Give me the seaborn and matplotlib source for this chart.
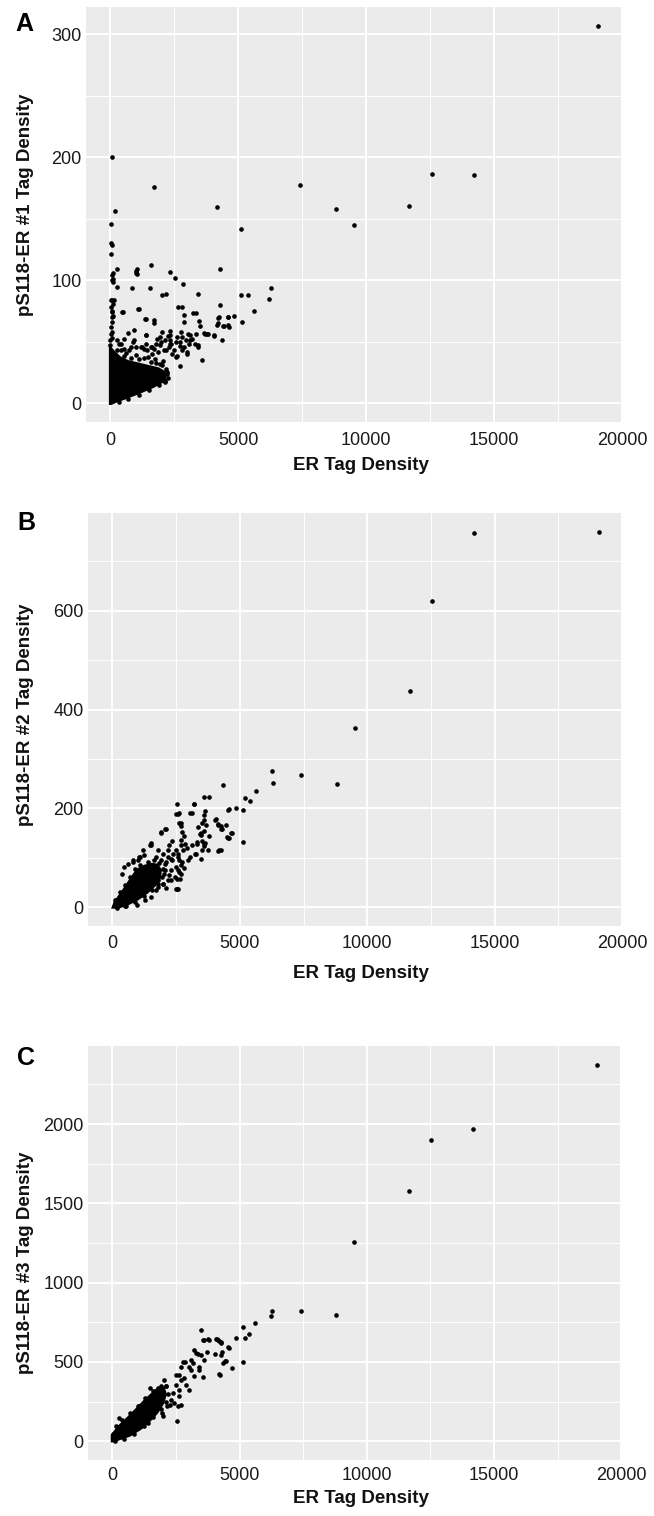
import matplotlib
matplotlib.use("agg")
import matplotlib.pyplot as plt
import seaborn as sns
import pandas as pd

# ---- data (ER tag density vs pS118-ER tag density) ----
# distinct points, panel A (replicate #1)
points_a = [
    (19070, 306.8), (14200, 185.4), (12550, 186.2), (11680, 160.2), (9520, 145.0),
    (8800, 157.7), (7390, 177.6), (5120, 141.7), (4160, 159.4), (1690, 175.4),
    (80, 200.4), (190, 156.4), (20, 145.8), (40, 130.6), (45, 128.8), (25, 121.6),
    (6290, 93.7), (6210, 85.0), (5110, 87.7), (5380, 88.2), (4290, 109.4),
    (5600, 75.0), (5160, 65.7), (4810, 71.1), (4640, 61.9), (4410, 62.4),
    (4360, 51.0), (4280, 80.0), (4590, 70.0), (4200, 65.4), (4215, 69.2),
    (4050, 54.3), (3760, 56.2), (3660, 56.7), (3500, 63.0), (3465, 66.5),
    (3440, 88.8), (3350, 73.0), (3220, 73.3), (3340, 56.5), (3570, 35.3),
    (3050, 56.5), (3120, 51.0), (3310, 48.3), (3440, 45.6), (3430, 47.0),
    (2880, 71.9), (2870, 66.0), (2800, 78.2), (2640, 78.2), (2850, 96.7),
    (2510, 101.5), (2310, 106.4), (2170, 89.1), (2020, 88.2), (1580, 112.1),
    (1020, 108.9), (985, 105.9), (250, 108.9), (1000, 107.5), (1030, 105.4),
    (270, 94.5), (860, 93.9), (1530, 93.9), (1090, 76.6), (465, 73.8),
    (1360, 68.1), (1690, 67.3), (1710, 65.2), (905, 59.7), (1410, 55.7),
    (2330, 58.6), (2250, 54.3), (2600, 53.8), (2730, 49.7), (2860, 45.6),
    (2990, 41.5), (2340, 48.3), (2470, 42.9), (2600, 38.0), (1950, 47.0),
    (2080, 42.9), (1820, 52.4), (1240, 45.6), (1435, 42.9), (1630, 45.6),
    (920, 51.0), (790, 45.6), (530, 44.3), (400, 48.3), (270, 51.0),
    (2120, 17.6), (2210, 25.2), (2700, 30.4), (1950, 32.0),
    (100, 106.0), (80, 104.0), (100, 101.0), (90, 98.6), (70, 99.9),
    (78, 84.2), (116, 80.9), (142, 84.2), (52, 74.1), (90, 71.1),
    (30, 83.6), (40, 78.0), (60, 75.0), (70, 70.0), (50, 66.0),
    (40, 62.0), (60, 58.0), (680, 57.0), (2030, 57.8), (1930, 53.8),
    (1580, 45.6), (1770, 48.3), (2160, 42.9), (2350, 48.3), (1320, 44.3),
    (1380, 48.3), (1190, 45.6), (870, 49.7), (995, 45.6), (740, 42.9),
    (545, 52.4), (350, 48.3), (410, 42.9), (1710, 44.3), (1840, 41.6),
    (1640, 40.2), (2550, 49.7), (2710, 46.1), (2800, 42.9), (3000, 40.2),
    (2290, 45.6), (2420, 40.2), (2550, 37.5), (3100, 55.1), (3190, 52.4),
    (2740, 57.8), (2800, 53.8), (2960, 51.0), (3060, 48.3), (3810, 55.9),
    (3710, 56.5), (4030, 55.1), (4160, 63.3), (4230, 70.0), (4580, 70.0),
    (4420, 62.6), (4610, 63.3), (2090, 18.5), (1990, 49.7), (2120, 51.6),
    (2320, 51.6), (2330, 55.7), (1380, 55.7), (1100, 76.8), (480, 74.1),
    (1380, 68.7),
    (250, 43.0), (520, 38.5), (800, 37.0), (1100, 35.5), (1300, 36.5),
    (1600, 33.5), (1800, 32.5), (2000, 31.0), (2180, 28.0), (2230, 24.0),
    (2250, 20.5), (2150, 17.0), (1900, 14.5), (1500, 10.5), (1100, 6.5),
    (700, 3.0), (350, 1.0), (0, 47.0), (0, 51.0), (50, 53.0), (30, 56.0),
    (620, 41.0), (1000, 39.0), (1450, 37.5), (1750, 36.0), (2050, 34.5),
]
# outline of the overplotted (solid) core, panel A
core_a_er = [-60, -60, 150, 400, 700, 1100, 1500, 1900, 2150, 2200, 2100, 1700, 1200, 650, 250, 40]
core_a_ps = [-1.5, 48, 43, 38, 35, 33, 31, 29, 26, 21, 17, 12.5, 8, 3.5, 0.5, -1.5]

# panel B (replicate #2)
points_b = [
    (19070, 760), (14200, 757), (12540, 620), (11690, 437), (9520, 362),
    (8810, 250), (7410, 267), (6250, 275), (6300, 252), (5630, 235),
    (5210, 221), (5400, 215), (4330, 247), (5140, 132), (5140, 196),
    (4850, 200), (4590, 198), (4700, 151), (4590, 140), (4250, 115),
    (3610, 224), (3800, 223), (2550, 208),
    (3200, 209.3), (2620, 191.0), (2490, 188.3), (3040, 191.7), (3650, 195.1),
    (4520, 197.8), (1910, 151.9), (2080, 159.3), (2620, 170.8), (2690, 165.4),
    (2720, 152.6), (2820, 143.8), (3350, 162.7), (3520, 171.5), (3420, 149.2),
    (3580, 153.9), (4040, 177.5), (4160, 169.4), (4270, 165.4), (4320, 159.3),
    (4640, 150.5), (4550, 140.4), (4160, 114.1), (3620, 131.0), (3330, 132.3),
    (3130, 126.9), (3520, 115.4), (3260, 108.7), (2680, 135.7), (2870, 128.9),
    (2940, 120.8), (2360, 133.7), (2230, 125.6), (2510, 116.8), (2590, 108.7),
    (1500, 125.6), (1200, 115.4), (1040, 101.9), (810, 95.2), (1780, 115.4),
    (1970, 108.7), (1710, 101.9), (2170, 101.9), (2360, 95.2), (2080, 88.4),
    (2620, 96.5), (2750, 91.8), (2490, 81.7), (2810, 80.3), (2620, 71.6),
    (2300, 74.9), (2040, 68.2), (2550, 58.1), (2300, 54.7), (2530, 37.8),
    (1970, 47.9), (1780, 41.2),
    (2580, 189.6), (3220, 208.5), (3120, 191.0), (2690, 170.8), (3610, 187.6),
    (3580, 176.0), (3660, 166.0), (3480, 151.2), (3530, 133.6), (3580, 124.2),
    (3050, 101.9), (2650, 58.0), (2580, 37.8), (4070, 179.5), (4150, 166.0),
    (4280, 159.3), (4440, 166.0), (3790, 144.4), (3760, 115.4),
    (1470, 125.6), (1080, 101.9), (990, 95.2), (830, 91.8), (1920, 95.2),
    (2110, 91.8), (2310, 98.6), (2180, 115.4), (2370, 108.7), (2570, 101.9),
    (2690, 125.6), (2760, 115.4), (2950, 95.2), (3270, 108.7), (3470, 98.6),
    (2690, 85.1), (2570, 74.9), (2050, 74.9), (2240, 64.8), (2180, 54.7),
    (1990, 47.9), (2110, 39.8), (1530, 20.9), (1280, 14.2), (1730, 34.4),
    (950, 4.1), (500, 2.0), (2500, 37.8), (1790, 54.7), (2440, 61.4),
    (2690, 68.2), (3340, 128.9), (3470, 145.8), (3600, 128.9), (4180, 115.4),
    (4500, 141.8), (440, 81.7), (630, 88.4), (370, 68.2), (1260, 105),
    (1500, 129), (1910, 151), (2120, 159),
    (100, 14), (300, 30), (500, 45), (700, 62), (900, 78), (1100, 86),
    (1400, 92), (1650, 95), (1850, 90), (1980, 78), (1950, 62), (1800, 48),
    (1550, 35), (1250, 22), (900, 11), (550, 3), (200, -1),
]
core_b_er = [-50, 50, 370, 700, 950, 1250, 1550, 1800, 1950, 1900, 1730, 1400, 1020, 630, 250]
core_b_ps = [-3, 11, 34, 60, 78, 86, 90, 88, 75, 58, 44, 28, 14, 4, -3]

# panel C (replicate #3)
points_c = [
    (19040, 2374), (14190, 1968), (12520, 1899), (11660, 1576), (9500, 1256),
    (8780, 798), (7400, 821), (6290, 819), (6240, 792), (5620, 748),
    (5140, 723), (5390, 674), (5210, 649), (5140, 500), (4850, 653),
    (4590, 590), (4700, 460), (4410, 504), (4250, 420), (3480, 700),
    (4550, 596), (4200, 423), (4350, 496), (4460, 508), (4330, 565),
    (4260, 544), (4170, 638), (4260, 628), (4090, 644), (3780, 642),
    (3550, 638), (4040, 550), (3740, 565), (3610, 513), (3350, 550),
    (3480, 544), (3200, 575), (3290, 559), (3090, 513), (3160, 492),
    (3390, 471), (3420, 450), (3220, 408), (3550, 404), (2770, 502),
    (2870, 502), (2700, 471), (3030, 471), (3090, 450), (2510, 418),
    (2610, 418), (2700, 387), (2830, 397), (2900, 356), (3030, 324),
    (2510, 356), (2640, 324), (2380, 303), (2310, 262), (2440, 241),
    (2640, 282), (2700, 230), (2570, 224), (2250, 230), (2140, 220),
    (2550, 126), (1790, 335), (2050, 387), (2120, 345), (1470, 335),
    (1660, 314), (1960, 178), (1990, 157), (1470, 157), (1400, 115),
    (1050, 220), (950, 188), (1340, 199), (270, 146), (1140, 94),
    (820, 73), (560, 52),
    (3590, 636), (3790, 636), (4110, 647), (4200, 632), (4280, 622),
    (40, 45), (150, 95), (400, 135), (700, 180), (1000, 225), (1300, 270),
    (1600, 315), (1900, 350), (2100, 345), (2180, 300), (2100, 250),
    (1900, 200), (1600, 150), (1250, 95), (850, 45), (450, 12), (100, -2),
]
core_c_er = [-60, -60, 200, 560, 900, 1200, 1500, 1800, 2050, 2150, 2030, 1800, 1480, 1120, 720, 280, 60]
core_c_ps = [-8, 40, 95, 150, 205, 255, 300, 340, 345, 295, 235, 175, 120, 70, 30, 5, -8]

x_ticks = [0, 5000, 10000, 15000, 20000]
y_ticks_a = [0, 100, 200, 300]
y_ticks_b = [0, 200, 400, 600]
y_ticks_c = [0, 500, 1000, 1500, 2000]
y_labels = ["pS118-ER #1 Tag Density", "pS118-ER #2 Tag Density", "pS118-ER #3 Tag Density"]
panel_letters = ["A", "B", "C"]

sns.set_theme(style="darkgrid")
plt.rcParams["font.family"] = ["Liberation Sans", "DejaVu Sans"]

W, H = 654, 1516
fig = plt.figure(figsize=(W / 100, H / 100), dpi=100)


def px_axes(left, right, top, bottom):
    return fig.add_axes([left / W, (H - bottom) / H, (right - left) / W, (bottom - top) / H])


panels = [
    dict(box=(86, 623, 7, 422), pts=points_a, core=(core_a_er, core_a_ps),
         ylim=(-15.35, 322.2), yticks=y_ticks_a, pad=5.5,
         xlab=(0.512, -0.104), ylab=(-0.113, 0.523), letter=(24, 24)),
    dict(box=(88, 623, 513, 926), pts=points_b, core=(core_b_er, core_b_ps),
         ylim=(-38, 798), yticks=y_ticks_b, pad=5.0,
         xlab=(0.510, -0.116), ylab=(-0.117, 0.511), letter=(26, 523)),
    dict(box=(88, 622, 1046, 1460), pts=points_c, core=(core_c_er, core_c_ps),
         ylim=(-118.7, 2492.7), yticks=y_ticks_c, pad=3.5,
         xlab=(0.511, -0.092), ylab=(-0.117, 0.476), letter=(25.5, 1058)),
]

for i, p in enumerate(panels):
    ax = px_axes(*p["box"])
    ax.set_facecolor("#EBEBEB")
    ax.set_axisbelow(True)
    for s in ax.spines.values():
        s.set_visible(False)

    # saturated core, then the individual points on top
    ax.fill(p["core"][0], p["core"][1], color="black", lw=0, zorder=2)
    df = pd.DataFrame(p["pts"], columns=["er", "ps"])
    sns.scatterplot(data=df, x="er", y="ps", ax=ax, color="black", s=11,
                    linewidth=0, zorder=3)

    ax.set_xlim(-954, 20030)
    ax.set_ylim(*p["ylim"])
    ax.set_xticks(x_ticks)
    ax.set_xticks([2500, 7500, 12500, 17500], minor=True)
    yt = p["yticks"]
    step = yt[1] - yt[0]
    ax.set_yticks(yt)
    ax.set_yticks([v + step / 2 for v in yt if v + step / 2 < p["ylim"][1]], minor=True)
    ax.set_xticklabels([str(v) for v in x_ticks])
    ax.set_yticklabels([str(v) for v in yt])

    ax.grid(which="major", color="white", lw=1.4)
    ax.grid(which="minor", color="white", lw=0.7)
    ax.tick_params(which="major", length=1.5, width=1.2, color="#333333",
                   labelsize=13, labelcolor="#1a1a1a")
    ax.tick_params(axis="x", which="major", pad=p["pad"])
    ax.tick_params(axis="y", which="major", pad=1.5)
    ax.tick_params(which="minor", length=0)

    ax.set_xlabel("ER Tag Density", fontsize=13.5, fontweight="bold", color="#111111")
    ax.set_ylabel(y_labels[i], fontsize=13.5, fontweight="bold", color="#111111")
    ax.xaxis.set_label_coords(*p["xlab"])
    ax.xaxis.label.set_va("center")
    ax.yaxis.set_label_coords(*p["ylab"])
    ax.yaxis.label.set_va("center")

    lx, ly = p["letter"]
    fig.text(lx / W, 1 - ly / H, panel_letters[i], fontsize=18, fontweight="bold",
             ha="center", va="center", color="black")

fig.savefig("out.png", dpi=100)
